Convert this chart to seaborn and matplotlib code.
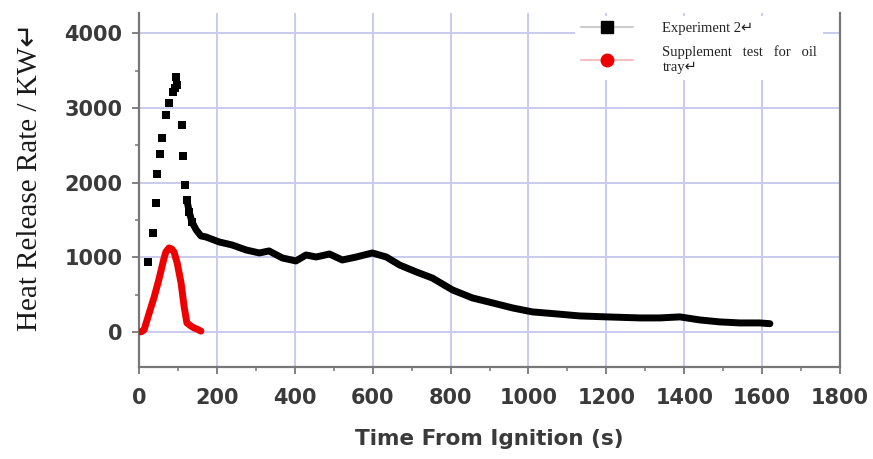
import matplotlib
matplotlib.use("Agg")
import matplotlib.pyplot as plt
from matplotlib.lines import Line2D
from matplotlib.ticker import MultipleLocator
import seaborn as sns
import pandas as pd

# ---- data ----
exp2_time = [23, 36, 44, 46, 54, 59, 69, 77, 87, 93, 95, 98,
             111, 113, 118, 123, 129, 136, 147, 159, 172, 206, 239, 275,
             309, 334, 368, 403, 429, 455, 489, 522, 558, 599, 635, 669,
             712, 753, 792, 805, 856, 908, 959, 1010, 1072, 1131, 1201,
             1286, 1337, 1389, 1440, 1491, 1543, 1594, 1620]
exp2_hrr = [937, 1325, 1726, 2114, 2382, 2596, 2903, 3064, 3211, 3265, 3412, 3305,
            2770, 2355, 1967, 1766, 1606, 1472, 1365, 1285, 1271, 1204, 1164, 1097,
            1057, 1084, 990, 950, 1030, 1003, 1043, 963, 1003, 1057, 1003, 896,
            803, 722, 602, 562, 455, 388, 321, 268, 241, 214, 201,
            187, 187, 201, 160, 134, 120, 120, 110]

sup_time = [5, 13, 26, 39, 50, 57, 64, 69, 77, 84, 90, 98, 108, 116, 123, 133, 141, 150, 159]
sup_hrr = [0, 27, 250, 468, 680, 829, 980, 1070, 1124, 1110, 1070, 923, 656, 334, 120, 80, 54, 35, 10]

x_ticks = [0, 200, 400, 600, 800, 1000, 1200, 1400, 1600, 1800]
y_ticks = [0, 1000, 2000, 3000, 4000]

label_exp = "Experiment 2\u21b5"
label_sup = "Supplement   test   for   oil\ntray\u21b5"
xlabel = "Time From Ignition (s)"
ylabel = "Heat Release Rate / KW\u21b5"

exp_df = pd.DataFrame({"t": exp2_time, "q": exp2_hrr})
sup_df = pd.DataFrame({"t": sup_time, "q": sup_hrr})
dense_df = exp_df[exp_df["t"] >= 123]
sparse_df = exp_df[exp_df["t"] <= 136]

sns.set_style("white")
plt.rcParams["font.family"] = ["DejaVu Sans"]

fig = plt.figure(figsize=(8.73, 4.59), dpi=100)
ax = fig.add_axes([139 / 873, 1 - 367 / 459, (840 - 139) / 873, (367 - 13) / 459])

grid_c = "#cacaf0"
ax.set_xlim(0, 1800)
ax.set_ylim(-470, 4270)
ax.set_xticks(x_ticks)
ax.set_yticks(y_ticks)
ax.xaxis.set_minor_locator(MultipleLocator(100))
ax.yaxis.set_minor_locator(MultipleLocator(500))
ax.grid(True, which="major", color=grid_c, linewidth=1.4)
ax.set_axisbelow(True)

# red series
sns.lineplot(data=sup_df, x="t", y="q", ax=ax, color="#ee0000", linewidth=5,
             sort=False, solid_capstyle="round", zorder=3)
# black series: dense part as thick line, sparse early points as markers
sns.lineplot(data=dense_df, x="t", y="q", ax=ax, color="black", linewidth=5,
             sort=False, solid_capstyle="round", zorder=4)
sns.scatterplot(data=sparse_df, x="t", y="q", ax=ax, color="black", marker="s",
                s=30, linewidth=0, zorder=5)

for side in ["left", "bottom", "right"]:
    ax.spines[side].set_color("#777777")
    ax.spines[side].set_linewidth(1.6)
ax.spines["top"].set_visible(False)

ax.tick_params(axis="both", which="major", direction="out", length=5, width=1.3,
               color="#777777", labelsize=15, labelcolor="#3a3a3a")
ax.tick_params(axis="both", which="minor", direction="out", length=3, width=1.1,
               color="#777777")
ax.tick_params(axis="y", which="major", pad=7, left=True)
ax.tick_params(axis="x", which="major", pad=10, bottom=True)
ax.tick_params(axis="both", which="minor", left=True, bottom=True)
for lbl in ax.get_xticklabels() + ax.get_yticklabels():
    lbl.set_fontweight("bold")

ax.set_xlabel(xlabel, fontsize=15.5, fontweight="bold", color="#3a3a3a", labelpad=15)
ax.set_ylabel("")
fig.text(30 / 873, 1 - 177 / 459, ylabel, rotation=90, ha="center", va="center",
         fontsize=21, color="#1a1a1a", family=["Liberation Serif", "DejaVu Sans"])

handles = [
    Line2D([0], [0], color="#cccccc", lw=1.5, marker="s", markersize=8,
           markerfacecolor="black", markeredgecolor="black"),
    Line2D([0], [0], color="#f2c0c0", lw=1.5, marker="o", markersize=9,
           markerfacecolor="#ee0000", markeredgecolor="#ee0000"),
]
leg = ax.legend(handles, [label_exp, label_sup], loc="upper left",
                bbox_to_anchor=(575 / 873, 1 - 16 / 459), bbox_transform=fig.transFigure,
                frameon=True, facecolor="white", edgecolor="none", framealpha=1,
                prop={"family": ["Liberation Serif", "DejaVu Sans"], "size": 10.5},
                handlelength=3.6, handletextpad=2.0, labelspacing=0.7,
                borderpad=0.4, borderaxespad=0)
for t in leg.get_texts():
    t.set_color("#222222")

fig.savefig("out.png", dpi=100)
